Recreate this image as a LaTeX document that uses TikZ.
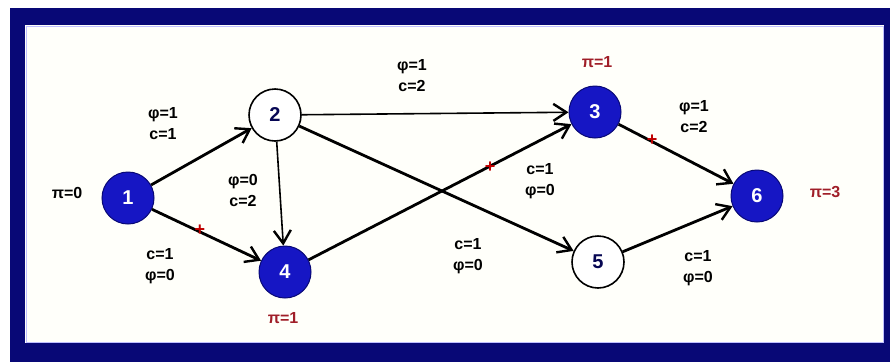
\documentclass[tikz,border=0pt]{standalone}
\usepackage{fontspec}
\setmainfont{Liberation Sans}
\usetikzlibrary{arrows.meta}

\definecolor{frameblue}{RGB}{8,8,118}
\definecolor{nodeblue}{RGB}{22,22,196}
\definecolor{potred}{RGB}{160,30,40}
\definecolor{paper}{RGB}{255,255,250}

\begin{document}
\begin{tikzpicture}[x=1pt, y=-1pt,
  full/.style={circle, draw=frameblue, line width=1pt, fill=nodeblue, minimum size=52pt,
    inner sep=0pt, text=white, font=\bfseries\fontsize{20}{20}\selectfont},
  hollow/.style={circle, draw=black, line width=1.6pt, fill=white, minimum size=52pt,
    inner sep=0pt, text=frameblue!70!black, font=\bfseries\fontsize{20}{20}\selectfont},
  arc/.style={line width=2.8pt, -{Straight Barb[length=13pt, width=17pt, line width=2.4pt]}},
  thinarc/.style={line width=1.6pt, -{Straight Barb[length=13pt, width=17pt, line width=2.4pt]}},
  lab/.style={font=\bfseries\fontsize{16}{21}\selectfont, align=center},
  pot/.style={text=potred, font=\bfseries\fontsize{16}{16}\selectfont},
  plus/.style={text=red!75!black, font=\bfseries\fontsize{18}{18}\selectfont}]
  \useasboundingbox (0,0) rectangle (890,362);

  % frame
  \fill[frameblue] (10,8) rectangle (890,362);
  \fill[paper] (25,25) rectangle (884,343);
  \draw[blue!25, line width=1pt] (26,26) rectangle (883,342);

  % vertices
  \node[full]   (v1) at (128,198) {1};
  \node[hollow] (v2) at (275,115) {2};
  \node[full]   (v4) at (285,272) {4};
  \node[full]   (v3) at (595,112) {3};
  \node[hollow] (v5) at (598,262) {5};
  \node[full]   (v6) at (757,196) {6};

  % potentials
  \node[lab] (p1) at (67,193) {π=0};
  \node[pot] (p4) at (283,318) {π=1};
  \node[pot] (p3) at (597,62) {π=1};
  \node[pot] (p6) at (825,192) {π=3};

  % arcs
  \draw[arc] (v1) -- (v2);
  \draw[arc] (v1) -- (v4);
  \draw[thinarc] (v2) -- (v4);
  \draw[thinarc] (v2) -- (v3);
  \draw[arc] (v2) -- (v5);
  \draw[arc] (v4) -- (v3);
  \draw[arc] (v3) -- (v6);
  \draw[arc] (v5) -- (v6);

  % flow and cost
  \node[lab] (l12) at (163,124) {φ=1\\c=1};
  \node[lab] (l14) at (160,266) {c=1\\φ=0};
  \node[lab] (l24) at (243,190) {φ=0\\c=2};
  \node[lab] (l23) at (412,76)  {φ=1\\c=2};
  \node[lab] (l43) at (540,181) {c=1\\φ=0};
  \node[lab] (l25) at (468,256) {c=1\\φ=0};
  \node[lab] (l36) at (694,117) {φ=1\\c=2};
  \node[lab] (l56) at (698,268) {c=1\\φ=0};

  % augmenting path
  \node[plus] (a14) at (200,230) {+};
  \node[plus] (a43) at (490,167) {+};
  \node[plus] (a36) at (652,140) {+};
\end{tikzpicture}
\end{document}
